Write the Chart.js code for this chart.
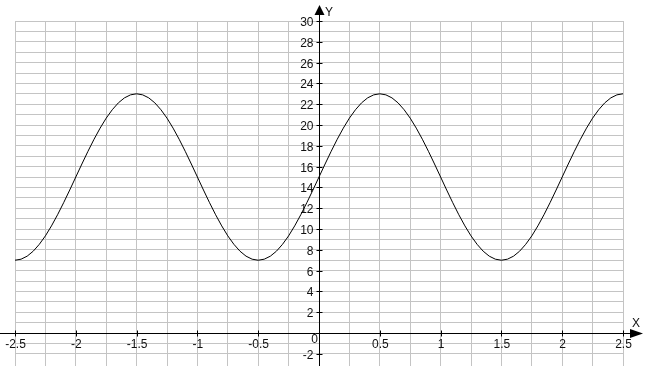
<!DOCTYPE html>
<html><head><meta charset="utf-8">
<script src="https://cdn.jsdelivr.net/npm/chart.js@4/dist/chart.umd.min.js"></script>
<style>html,body{margin:0;padding:0;background:#fff}canvas{display:block}</style>
</head><body>
<canvas id="c" width="647" height="366"></canvas>
<script>
const xValues = [-2.5,-2.45,-2.4,-2.35,-2.3,-2.25,-2.2,-2.15,-2.1,-2.05,
  -2,-1.95,-1.9,-1.85,-1.8,-1.75,-1.7,-1.65,-1.6,-1.55,
  -1.5,-1.45,-1.4,-1.35,-1.3,-1.25,-1.2,-1.15,-1.1,-1.05,
  -1,-0.95,-0.9,-0.85,-0.8,-0.75,-0.7,-0.65,-0.6,-0.55,
  -0.5,-0.45,-0.4,-0.35,-0.3,-0.25,-0.2,-0.15,-0.1,-0.05,
  0,0.05,0.1,0.15,0.2,0.25,0.3,0.35,0.4,0.45,
  0.5,0.55,0.6,0.65,0.7,0.75,0.8,0.85,0.9,0.95,
  1,1.05,1.1,1.15,1.2,1.25,1.3,1.35,1.4,1.45,
  1.5,1.55,1.6,1.65,1.7,1.75,1.8,1.85,1.9,1.95,
  2,2.05,2.1,2.15,2.2,2.25,2.3,2.35,2.4,2.45,
  2.5];
const yValues = [7,7.10,7.39,7.87,8.53,9.34,10.30,11.37,12.53,13.75,
  15,16.25,17.47,18.63,19.70,20.66,21.47,22.13,22.61,22.90,
  23,22.90,22.61,22.13,21.47,20.66,19.70,18.63,17.47,16.25,
  15,13.75,12.53,11.37,10.30,9.34,8.53,7.87,7.39,7.10,
  7,7.10,7.39,7.87,8.53,9.34,10.30,11.37,12.53,13.75,
  15,16.25,17.47,18.63,19.70,20.66,21.47,22.13,22.61,22.90,
  23,22.90,22.61,22.13,21.47,20.66,19.70,18.63,17.47,16.25,
  15,13.75,12.53,11.37,10.30,9.34,8.53,7.87,7.39,7.10,
  7,7.10,7.39,7.87,8.53,9.34,10.30,11.37,12.53,13.75,
  15,16.25,17.47,18.63,19.70,20.66,21.47,22.13,22.61,22.90,
  23];
const xTickLabels = [-2.5,-2,-1.5,-1,-0.5,0.5,1,1.5,2,2.5];
const yTickLabels = [-2,0,2,4,6,8,10,12,14,16,18,20,22,24,26,28,30];
const xAxisName = 'X';
const yAxisName = 'Y';

const points = xValues.map((x, i) => ({x: x, y: yValues[i]}));
const FONT = '12px "Liberation Sans", Arial, sans-serif';

const axesPlugin = {
  id: 'axes',
  beforeDatasetsDraw(chart) {
    const ctx = chart.ctx;
    const xs = chart.scales.x, ys = chart.scales.y;
    const x0 = Math.round(xs.getPixelForValue(0)) + 0.5;
    const y0 = Math.round(ys.getPixelForValue(0)) + 0.5;
    ctx.save();
    ctx.strokeStyle = '#000';
    ctx.fillStyle = '#000';
    ctx.lineWidth = 1;
    ctx.beginPath();
    // axis lines
    ctx.moveTo(0, y0); ctx.lineTo(631, y0);
    ctx.moveTo(x0, 15); ctx.lineTo(x0, chart.height);
    // tick crosses
    xTickLabels.forEach(v => {
      const px = Math.round(xs.getPixelForValue(v)) + 0.5;
      ctx.moveTo(px, y0 - 3); ctx.lineTo(px, y0 + 3);
    });
    yTickLabels.forEach(v => {
      if (v === 0) return;
      const py = Math.round(ys.getPixelForValue(v)) + 0.5;
      ctx.moveTo(x0 - 3, py); ctx.lineTo(x0 + 3, py);
    });
    ctx.stroke();
    // arrow heads
    ctx.beginPath();
    ctx.moveTo(x0, 5); ctx.lineTo(x0 - 5, 15); ctx.lineTo(x0 + 5, 15); ctx.closePath();
    ctx.fill();
    ctx.beginPath();
    ctx.moveTo(643, y0); ctx.lineTo(630, y0 - 4.5); ctx.lineTo(630, y0 + 4.5); ctx.closePath();
    ctx.fill();
    // labels
    ctx.font = FONT;
    ctx.fillStyle = '#111';
    ctx.textBaseline = 'alphabetic';
    ctx.textAlign = 'center';
    xTickLabels.forEach(v => {
      const px = xs.getPixelForValue(v);
      ctx.fillText(String(v), px + 0.5, y0 + 14.5);
    });
    ctx.textAlign = 'right';
    yTickLabels.forEach(v => {
      if (v === 0) {
        ctx.fillText('0', x0 - 1.5, y0 + 9.5);
        return;
      }
      const py = Math.round(ys.getPixelForValue(v));
      ctx.fillText(String(v), x0 - 6, py + 5);
    });
    ctx.textAlign = 'left';
    ctx.fillText(yAxisName, x0 + 5.5, 16);
    ctx.fillText(xAxisName, 632, y0 - 6.5);
    ctx.restore();
  }
};

new Chart(document.getElementById('c'), {
  type: 'line',
  data: {
    datasets: [{
      data: points,
      borderColor: '#000',
      borderWidth: 1,
      pointRadius: 0,
      tension: 0,
      fill: false
    }]
  },
  options: {
    responsive: false,
    devicePixelRatio: 1,
    animation: false,
    layout: {padding: {left: 15, right: 24, top: 21, bottom: 0}},
    plugins: {legend: {display: false}, tooltip: {enabled: false}},
    scales: {
      x: {
        type: 'linear', min: -2.5, max: 2.5,
        ticks: {display: false, stepSize: 0.25},
        grid: {color: '#c4c4c4', drawTicks: false},
        border: {display: false}
      },
      y: {
        type: 'linear', min: -3.17, max: 30,
        ticks: {display: false, stepSize: 1},
        afterBuildTicks: (s) => {
          s.ticks = s.ticks.filter(t => Math.abs(t.value - Math.round(t.value)) < 1e-6);
        },
        grid: {color: '#c4c4c4', drawTicks: false},
        border: {display: false}
      }
    }
  },
  plugins: [axesPlugin]
});
</script>
</body></html>
